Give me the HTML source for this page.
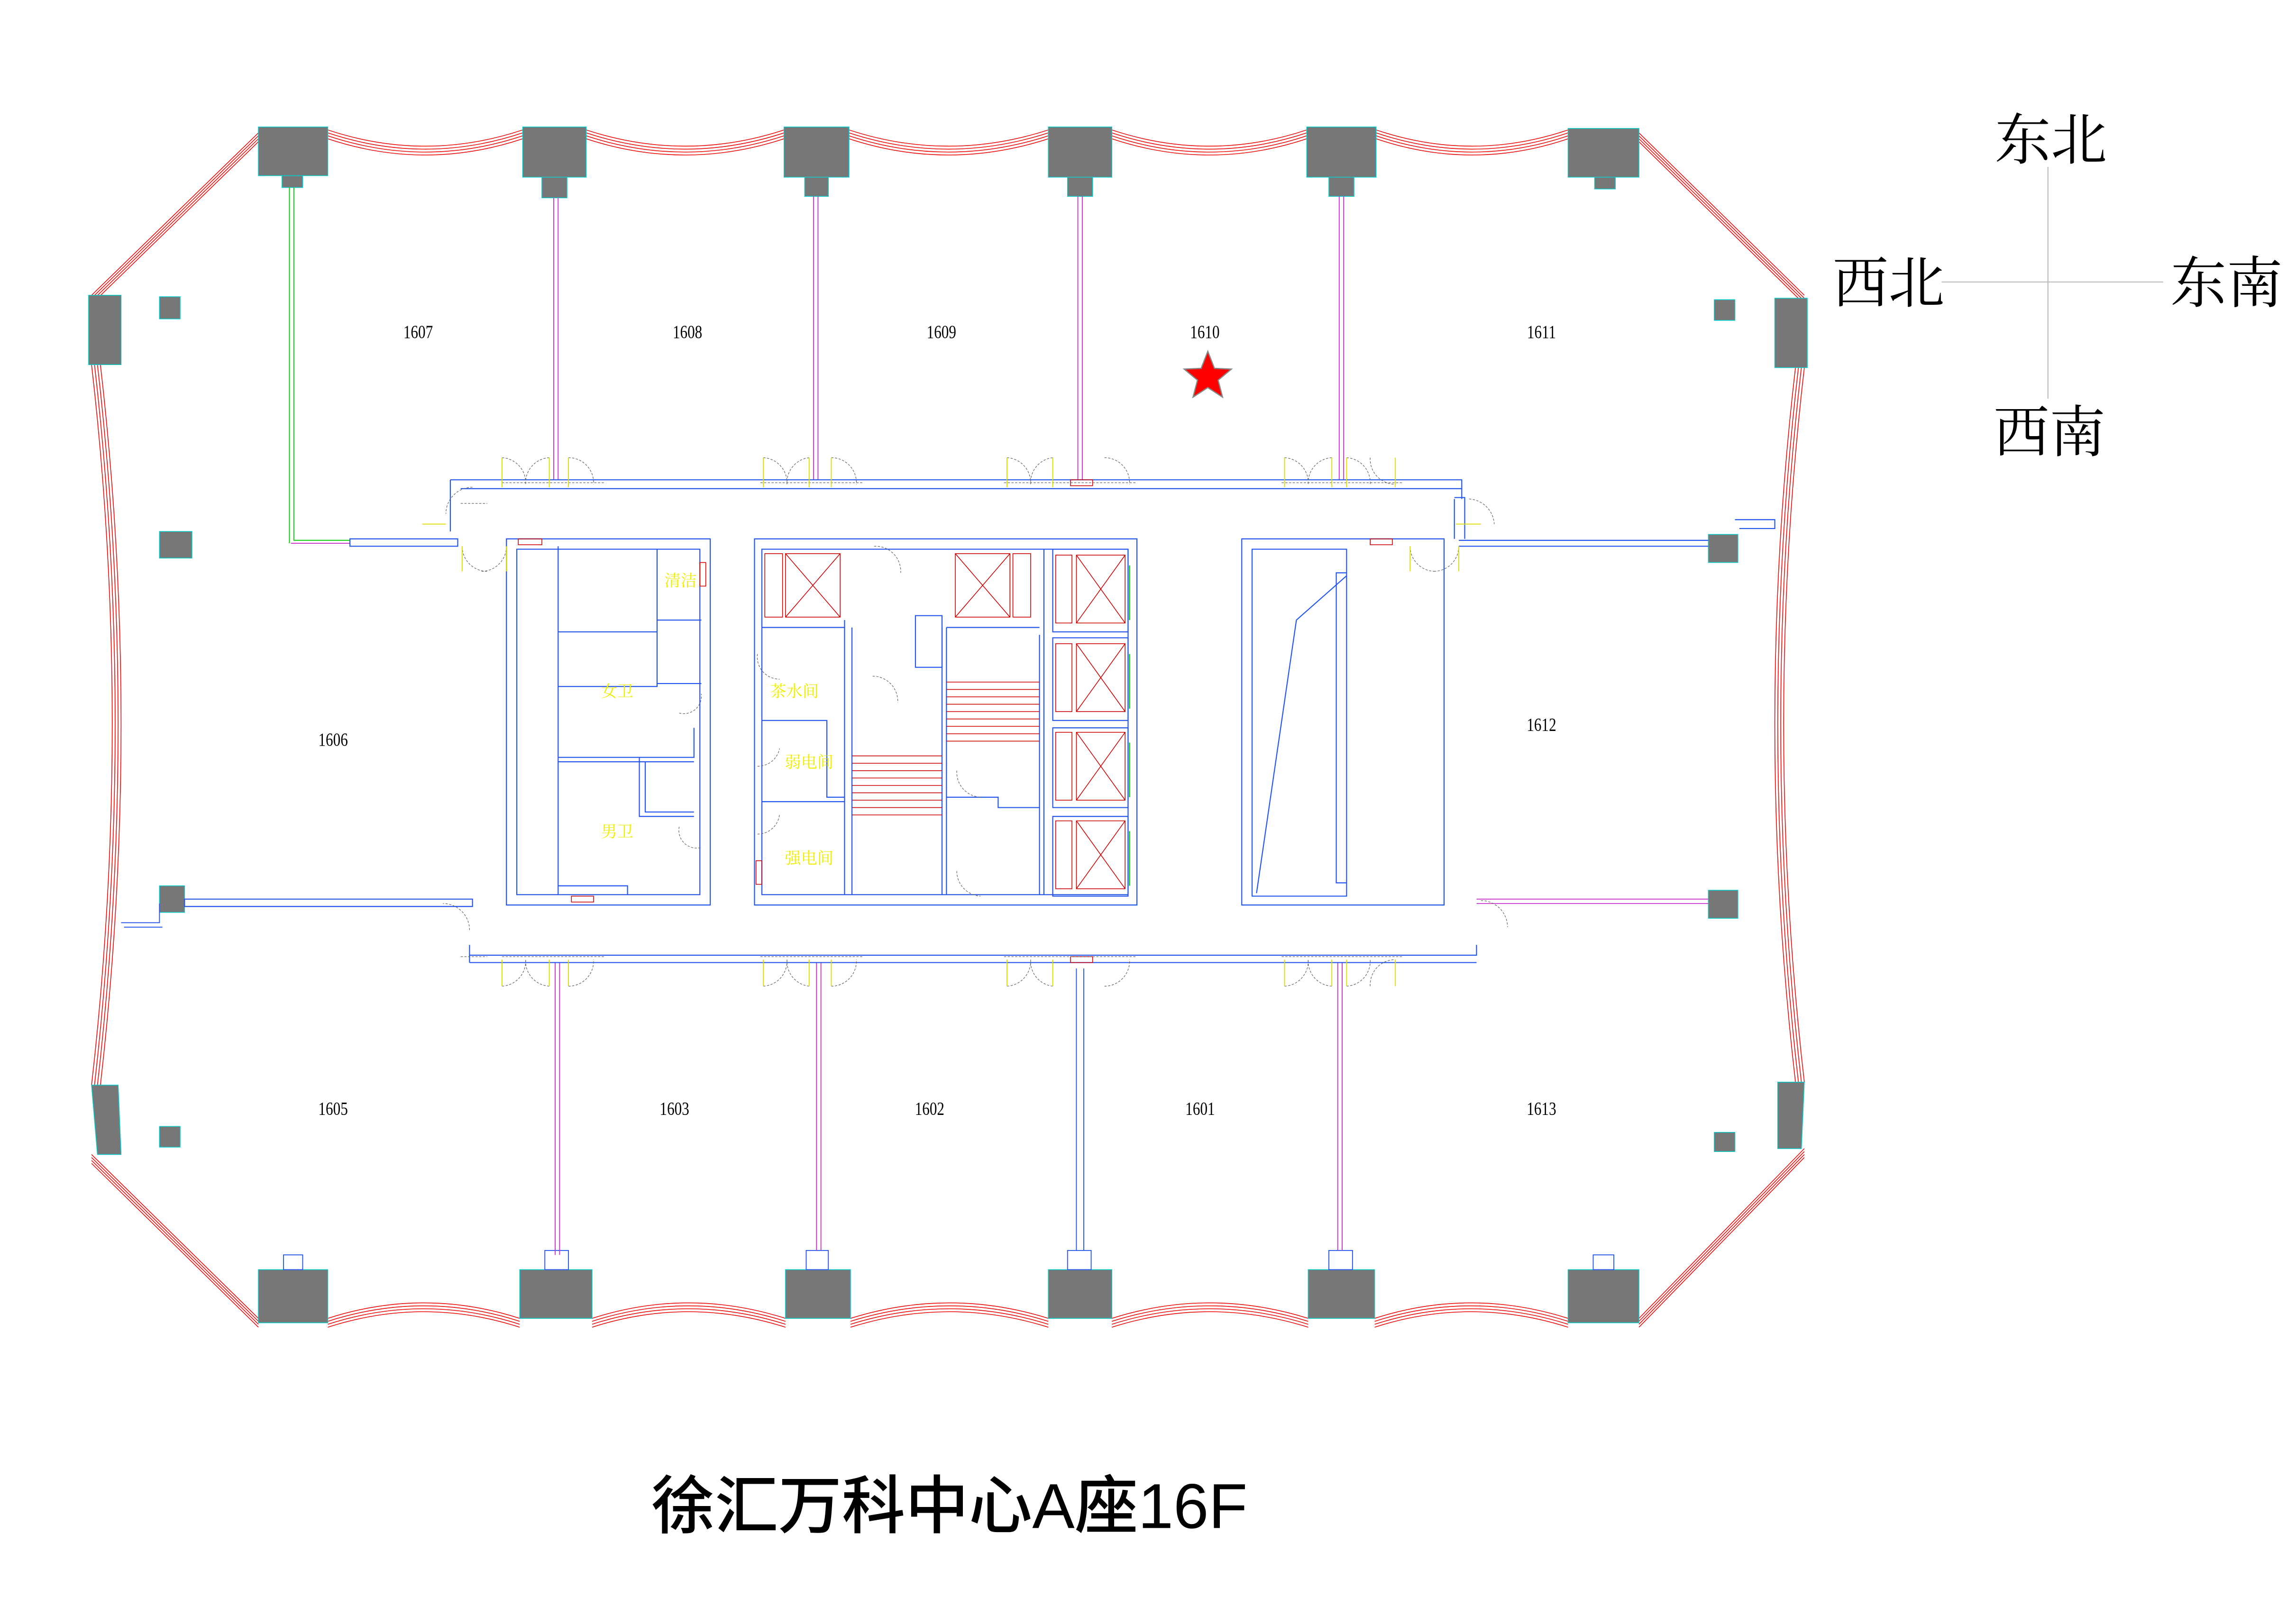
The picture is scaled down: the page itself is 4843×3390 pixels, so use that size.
<!DOCTYPE html>
<html><head><meta charset="utf-8"><style>html,body{margin:0;padding:0;background:#fff}svg{display:block}</style></head>
<body>
<svg width="4843" height="3390" viewBox="0 0 1555 1088.5" preserveAspectRatio="none" xmlns="http://www.w3.org/2000/svg">
<rect width="1555" height="1088.5" fill="#fff"/>
<g fill="none" stroke="#e00" stroke-width="0.5">
<g id="fac">
<path d="M222,88 Q288,110 354,88"/><path d="M397,88 Q464,110 531,88"/><path d="M575,88 Q642,110 710,88"/><path d="M753,88 Q819,110 885,88"/><path d="M932,88 Q997,110 1062,88"/>
<path d="M175,90 L62,200"/><path d="M62,782 L175,893"/>
<path d="M222,893 Q287,872 352,893"/><path d="M401,893 Q466,872 532,893"/><path d="M576,893 Q643,872 710,893"/><path d="M753,893 Q819,872 886,893"/><path d="M931,893 Q996,872 1062,893"/>
<path d="M1110,90 L1222,200"/><path d="M1222,778 L1110,893"/>
</g>
<use href="#fac" transform="translate(0,2)"/><use href="#fac" transform="translate(0,4)"/><use href="#fac" transform="translate(0,6)"/>
<g id="sideL"><path d="M62,247 Q90,490 62,735"/></g>
<use href="#sideL" transform="translate(2,0)"/><use href="#sideL" transform="translate(4,0)"/><use href="#sideL" transform="translate(6,0)"/>
<g id="sideR"><path d="M1222,249 Q1194,490 1222,733"/></g>
<use href="#sideR" transform="translate(-2,0)"/><use href="#sideR" transform="translate(-4,0)"/><use href="#sideR" transform="translate(-6,0)"/>
</g>
<g fill="#777" stroke="#0cc" stroke-width="0.5">
<rect x="175" y="86" width="47" height="33"/><rect x="191" y="119" width="14" height="8"/>
<rect x="354" y="86" width="43" height="34"/><rect x="367" y="120" width="17" height="14"/>
<rect x="531" y="86" width="44" height="34"/><rect x="545" y="120" width="16" height="13"/>
<rect x="710" y="86" width="43" height="34"/><rect x="723" y="120" width="17" height="13"/>
<rect x="885" y="86" width="47" height="34"/><rect x="900" y="120" width="17" height="13"/>
<rect x="1062" y="87" width="48" height="33"/><rect x="1080" y="120" width="14" height="8"/>
<rect x="60" y="200" width="22" height="47"/><polygon points="62,735 80,735 82,782 66,782"/>
<rect x="1202" y="202" width="22" height="47"/><polygon points="1204,733 1222,733 1220,778 1204,778"/>
<rect x="175" y="860" width="47" height="36"/><rect x="352" y="860" width="49" height="33"/><rect x="532" y="860" width="44" height="33"/><rect x="710" y="860" width="43" height="33"/><rect x="886" y="860" width="45" height="33"/><rect x="1062" y="860" width="48" height="36"/>
<rect x="108" y="201" width="14" height="15"/><rect x="108" y="360" width="22" height="18"/><rect x="108" y="600" width="17" height="18"/><rect x="108" y="763" width="14" height="14"/>
<rect x="1161" y="203" width="14" height="14"/><rect x="1157" y="362" width="20" height="19"/><rect x="1157" y="603" width="20" height="19"/><rect x="1161" y="767" width="14" height="13"/>
</g>
<g fill="none" stroke="#2255ee" stroke-width="0.6">
<rect x="192" y="850" width="13" height="10"/><rect x="369" y="847" width="16" height="13"/><rect x="546" y="847" width="15" height="13"/><rect x="723" y="847" width="16" height="13"/><rect x="900" y="847" width="16" height="13"/><rect x="1079" y="850" width="14" height="10"/>
</g>
<g fill="none" stroke-width="0.6">
<path d="M196,127V368M199,127V366H237" stroke="#0c0"/>
<path d="M197,368H237" stroke="#c3c"/>
<path d="M375,134V325M378,134V325M551,133V325M554,133V325M730,133V325M733,133V325M907,133V325M910,133V325" stroke="#c3c"/>
<path d="M376,652V850M379,652V850M553,652V847M556,652V847M906,652V847M909,652V847" stroke="#c3c"/>
<path d="M729,656V847M734,656V847" stroke="#2255ee"/>
<path d="M1000,609H1157M1000,612H1157" stroke="#c3c"/>
<path d="M82,625H108V612M84,628H110" stroke="#2255ee"/>
</g>
<g fill="none" stroke="#2255ee" stroke-width="0.7">
<path d="M305,325H990V338M305,325V360M312,331H990"/>
<path d="M237,365H310V370H237Z"/>
<path d="M125,609H320V614H125Z"/>
<path d="M318,647H1000V640M318,652H1000M318,640V652"/>
<path d="M988,366H1157M988,370H1157M1175,352H1202V358H1178"/>
<path d="M343,365H481V613H343Z M350,372H474V606H350Z"/>
<path d="M378,370V606M378,428H445V465H378M445,420V463H475M378,513H470V493M378,516H470M433,513V553H470M437,516V550H470M378,600H425V606"/>
<path d="M445,372V420H475"/>
<path d="M511,365H770V613H511Z M516,372H764V606H516Z"/>
<path d="M572,420V606M577,425V606M638,425V606M641,425V606M704,430V606M707,372V606"/>
<path d="M516,425H572M516,488H560V540H572M516,543H572M620,417H638V452H620Z"/>
<path d="M641,425H704M641,540H676V547H704"/>
<path d="M713,372H764V428H713ZM713,432H764V488H713ZM713,493H764V547H713ZM713,553H764V607H713Z"/>
<path d="M841,365H978V613H841Z M848,372H912V607H848Z M912,372V388H905V598H912V607"/>
<path d="M851,605L878,420L912,390"/>
<path d="M985,337H992V365M985,338V365" />
</g>
<g fill="none" stroke="#c00" stroke-width="0.5">
<rect x="518" y="375" width="12" height="43"/><rect x="532" y="375" width="37" height="43"/><path d="M532,375L569,418M569,375L532,418"/>
<rect x="647" y="375" width="37" height="43"/><rect x="686" y="375" width="12" height="43"/><path d="M647,375L684,418M684,375L647,418"/>
<g id="el"><rect x="715" y="376" width="11" height="46"/><rect x="729" y="376" width="33" height="46"/><path d="M729,376L762,422M762,376L729,422"/></g>
<use href="#el" transform="translate(0,60)"/><use href="#el" transform="translate(0,120)"/><use href="#el" transform="translate(0,180)"/>
<path d="M577,512H638M577,517H638M577,522H638M577,527H638M577,532H638M577,537H638M577,542H638M577,547H638M577,552H638"/>
<path d="M641,462H704M641,467H704M641,472H704M641,477H704M641,482H704M641,487H704M641,492H704M641,497H704M641,502H704"/>
<rect x="474" y="381" width="4" height="16"/><rect x="512" y="583" width="4" height="16"/>
<rect x="387" y="607" width="15" height="4"/><rect x="351" y="365" width="16" height="4"/><rect x="725" y="325" width="15" height="4"/><rect x="725" y="648" width="15" height="4"/><rect x="928" y="365" width="15" height="4"/>
</g>
<g stroke="#0d0" stroke-width="0.8"><path d="M765,383V420M765,443V480M765,503V540M765,563V600"/></g>
<g fill="none" stroke="#666" stroke-width="0.4" stroke-dasharray="1.5,1">
<path d="M320,330A18,18 0 0,0 302,348M318,630A18,18 0 0,0 300,612M995,338A18,18 0 0,1 1012,355M1003,610A18,18 0 0,1 1021,628"/>
<path d="M340,310A17,17 0 0,1 356,328M372,310A17,17 0 0,0 356,328M385,310A17,17 0 0,1 402,328M517,310A17,17 0 0,1 533,328M548,310A17,17 0 0,0 533,328M563,310A17,17 0 0,1 580,328M682,310A17,17 0 0,1 698,328M713,310A17,17 0 0,0 698,328M748,310A17,17 0 0,1 765,328M870,310A17,17 0 0,1 886,328M902,310A17,17 0 0,0 886,328M912,310A17,17 0 0,1 928,328M928,310A17,17 0 0,0 945,328"/>
<path d="M340,668A17,17 0 0,0 356,650M372,668A17,17 0 0,1 356,650M385,668A17,17 0 0,0 402,650M517,668A17,17 0 0,0 533,650M548,668A17,17 0 0,1 533,650M563,668A17,17 0 0,0 580,650M682,668A17,17 0 0,0 698,650M713,668A17,17 0 0,1 698,650M748,668A17,17 0 0,0 765,650M870,668A17,17 0 0,0 886,650M902,668A17,17 0 0,1 886,650M912,668A17,17 0 0,0 928,650M928,668A17,17 0 0,1 945,650"/>
<path d="M313,370A17,17 0 0,0 330,387M343,370A17,17 0 0,1 326,387M955,370A17,17 0 0,0 972,387M988,370A17,17 0 0,1 971,387"/>
<path d="M592,370A17,17 0 0,1 610,388M591,458A17,17 0 0,1 608,476M648,522A17,17 0 0,0 664,540M648,590A17,17 0 0,0 664,607M460,560A12,12 0 0,0 475,574M460,483A12,12 0 0,0 475,470M513,443A15,15 0 0,0 528,460M513,519A15,15 0 0,0 528,507M513,565A15,15 0 0,0 528,551"/>
<path d="M312,341H330M312,648H330M340,327H410M515,327H585M680,327H770M868,327H950M340,648H410M515,648H585M680,648H770M868,648H950"/>
</g>
<g stroke="#dd0" stroke-width="0.6" fill="none">
<path d="M340,310V330M372,310V330M385,310V330M517,310V330M548,310V330M563,310V330M682,310V330M713,310V330M870,310V330M902,310V330M912,310V330M945,310V330"/>
<path d="M340,650V668M372,650V668M385,650V668M517,650V668M548,650V668M563,650V668M682,650V668M713,650V668M870,650V668M902,650V668M912,650V668M945,650V668"/>
<path d="M313,370V387M343,370V387M955,370V387M988,370V387M286,355H302M986,355H1003"/>
</g>
<g font-family="Liberation Serif, serif" font-size="12.5" fill="#000" text-anchor="middle" transform="scale(0.8,1)">
<text x="354" y="229">1607</text><text x="582" y="229">1608</text><text x="797" y="229">1609</text><text x="1020" y="229">1610</text><text x="1305" y="229">1611</text>
<text x="282" y="505">1606</text><text x="1305" y="495">1612</text>
<text x="282" y="755">1605</text><text x="571" y="755">1603</text><text x="787" y="755">1602</text><text x="1016" y="755">1601</text><text x="1305" y="755">1613</text>
</g>
<g font-family="Liberation Serif, 'Noto Serif CJK SC', serif" font-size="11" fill="#ee0" text-anchor="middle">
<text x="461" y="397">清洁</text><text x="418" y="472">女卫</text><text x="418" y="567">男卫</text><text x="538" y="472">茶水间</text><text x="548" y="520">弱电间</text><text x="548" y="585">强电间</text>
</g>
<polygon points="818,238 822.5,249.5 834,250 825,257.5 828,269 818,262.5 808,269 811,257.5 802,250 813.5,249.5" fill="#f00" stroke="#888" stroke-width="0.8"/>
<g stroke="#bbb" stroke-width="0.7"><path d="M1387,113V270M1315,191H1465"/></g>
<g font-family="Liberation Serif, 'Noto Serif CJK SC', serif" font-size="38" fill="#000" text-anchor="middle">
<text x="1389" y="108">东北</text><text x="1279" y="205">西北</text><text x="1508" y="205">东南</text><text x="1388" y="306">西南</text>
</g>
<text x="643" y="1035" font-family="Liberation Sans, 'Noto Sans CJK SC', sans-serif" font-size="43" font-weight="500" text-anchor="middle" fill="#000">徐汇万科中心A座16F</text>
</svg>
</body></html>
